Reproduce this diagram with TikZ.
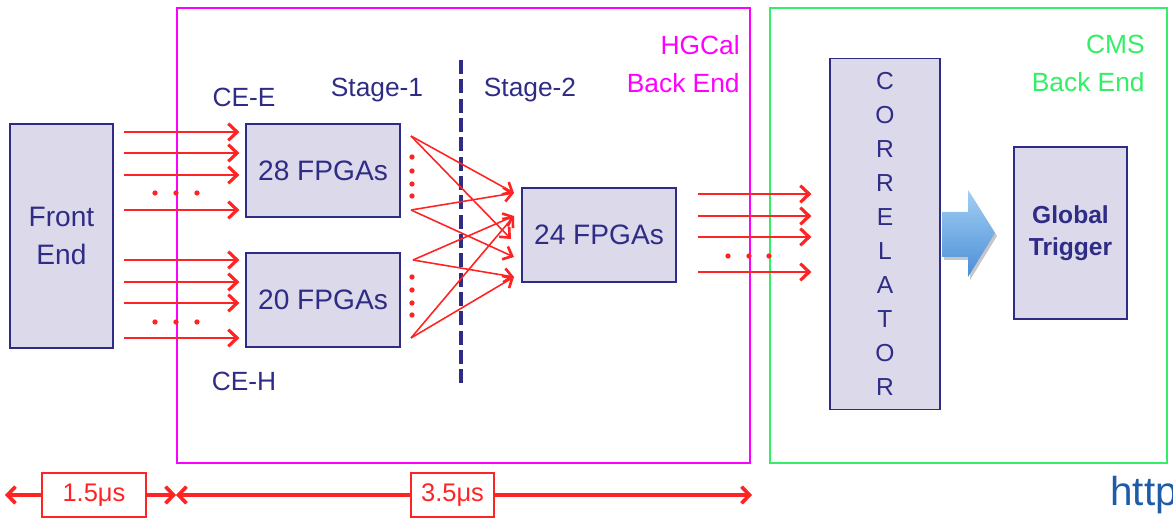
\documentclass[tikz,border=0pt]{standalone}
\usepackage{fontspec}
\setmainfont{Liberation Sans}
\usetikzlibrary{arrows.meta, positioning, calc}
\definecolor{navy}{HTML}{2E2C85}
\definecolor{boxfill}{HTML}{DCDAEA}
\definecolor{sigred}{HTML}{FF2424}
\definecolor{hgcal}{HTML}{FF00FF}
\definecolor{cms}{HTML}{33EE66}
\definecolor{urlblue}{HTML}{1F5CA8}
\definecolor{arrtop}{HTML}{A3CFF3}
\definecolor{arrbot}{HTML}{4A8ED8}

\begin{document}
\begin{tikzpicture}[x=0.02cm, y=-0.02cm,
  font=\fontsize{16}{21.5}\selectfont,
  blk/.style={rectangle, draw=navy, line width=0.7pt, fill=boxfill, text=navy,
              align=center, inner sep=0pt},
  frame/.style={rectangle, line width=1.2pt, inner sep=0pt},
  lbl/.style={text=navy, font=\fontsize{15}{18}\selectfont, inner sep=0pt},
  grp/.style={anchor=north east, align=right, inner sep=0pt,
              font=\fontsize{15}{21.5}\selectfont},
  sig/.style={draw=sigred, line width=1.3pt,
              -{Straight Barb[length=5pt, width=9.5pt, line width=1.8pt]}},
  cross/.style={draw=sigred, line width=0.9pt,
                -{Straight Barb[length=4.5pt, width=8pt, line width=1.5pt]}},
  tbox/.style={rectangle, draw=sigred, line width=1pt, fill=white, text=sigred,
               minimum width=2.08cm, minimum height=0.88cm,
               font=\fontsize{14.5}{16}\selectfont},
  tline/.style={draw=sigred, line width=2.1pt,
                {Straight Barb[length=4.5pt, width=9.5pt]}-{Straight Barb[length=4.5pt, width=9.5pt]}}]
  \useasboundingbox (0,0) rectangle (1173,526);

  \node[frame, draw=hgcal, minimum width=11.46cm, minimum height=9.1cm] (hgc) at (463.5,235.5) {};
  \node[frame, draw=cms, minimum width=7.94cm, minimum height=9.1cm] (cmsb) at (968.5,235.5) {};
  \node[grp, text=hgcal] (hgcl) at (740,35) {HGCal\\Back End};
  \node[grp, text=cms] (cmsl) at (1145,35) {CMS\\Back End};

  \node[blk, minimum width=2.06cm, minimum height=4.48cm] (fe) at (61.5,236) {Front\\End};
  \node[blk, minimum width=3.08cm, minimum height=1.86cm] (ee) at (323,170.5) {28 FPGAs};
  \node[blk, minimum width=3.08cm, minimum height=1.88cm] (eh) at (323,300) {20 FPGAs};
  \node[blk, minimum width=3.08cm, minimum height=1.88cm] (st2) at (599,235) {24 FPGAs};
  \node[blk, minimum width=2.2cm, minimum height=7.02cm,
        font=\fontsize{14}{19.3}\selectfont] (corr) at (885,234) {C\\O\\R\\R\\E\\L\\A\\T\\O\\R};
  \node[blk, minimum width=2.26cm, minimum height=3.44cm,
        font=\bfseries\fontsize{14}{18}\selectfont] (gt) at (1070.5,233) {Global\\Trigger};

  \node[lbl] (cee) at (244,97) {CE-E};
  \node[lbl] (ceh) at (244,381) {CE-H};
  \node[lbl] (stg1) at (377,90) {Stage-1};
  \node[lbl] (stg2) at (530,90) {Stage-2};

  \coordinate (dtop) at (461,60);
  \coordinate (dbot) at (461,385);
  \draw[navy, line width=1.8pt, dash pattern=on 8pt off 3pt] (dtop) -- (dbot);

  \foreach \y in {132,153,175,210}
    \draw[sig, shorten <=0.2cm, shorten >=0.12cm] (fe.east |- 0,\y) -- (ee.west |- 0,\y);
  \foreach \y in {260,282,303,338}
    \draw[sig, shorten <=0.2cm, shorten >=0.12cm] (fe.east |- 0,\y) -- (eh.west |- 0,\y);
  \foreach \y in {194,216,237,272}
    \draw[sig, shorten <=0.42cm, shorten >=0.36cm] (st2.east |- 0,\y) -- (corr.west |- 0,\y);

  \foreach \x in {155,176,197} {
    \fill[sigred] (\x,193) circle (1.5pt);
    \fill[sigred] (\x,322) circle (1.5pt);
  }
  \foreach \x in {728,749,769}
    \fill[sigred] (\x,256) circle (1.5pt);
  \foreach \y in {157,171,184,196,277,290,303,315}
    \fill[sigred] (412,\y) circle (1.5pt);

  \coordinate (src1) at (411,136);
  \coordinate (src2) at (411,210);
  \coordinate (src3) at (413,260);
  \coordinate (src4) at (411,338);
  \coordinate (dst1) at (514,193);
  \coordinate (dst2) at (514,216);
  \coordinate (dst3) at (511,239);
  \coordinate (dst4) at (514,257);
  \coordinate (dst5) at (514,277);
  \draw[cross] (src1) -- (dst1);
  \draw[cross] (src1) -- (dst3);
  \draw[cross] (src2) -- (dst1);
  \draw[cross] (src2) -- (dst4);
  \draw[cross] (src3) -- (dst2);
  \draw[cross] (src3) -- (dst5);
  \draw[cross] (src4) -- (dst2);
  \draw[cross] (src4) -- (dst5);

  \fill[gray!45] (944,215) -- (970,215) -- (970,193) -- (997,236) -- (970,280)
    -- (970,260) -- (944,260) -- cycle;
  \shade[top color=arrtop, bottom color=arrbot] (942,212) -- (968,212) -- (968,190)
    -- (995,233) -- (968,277) -- (968,257) -- (942,257) -- cycle;

  \coordinate (tl0) at (5,495);
  \coordinate (tl1) at (176,495);
  \coordinate (tl2) at (752,495);
  \draw[tline] (tl0) -- (tl1);
  \draw[tline] (tl1) -- (tl2);
  \node[tbox] (t15) at (94,495) {1.5μs};
  \node[tbox, minimum width=1.66cm] (t35) at (452.5,495) {3.5μs};

  \node[anchor=base west, text=urlblue, inner sep=0pt,
        font=\fontsize{23}{25}\selectfont] (url) at (1110,506) {http};
\end{tikzpicture}
\end{document}
